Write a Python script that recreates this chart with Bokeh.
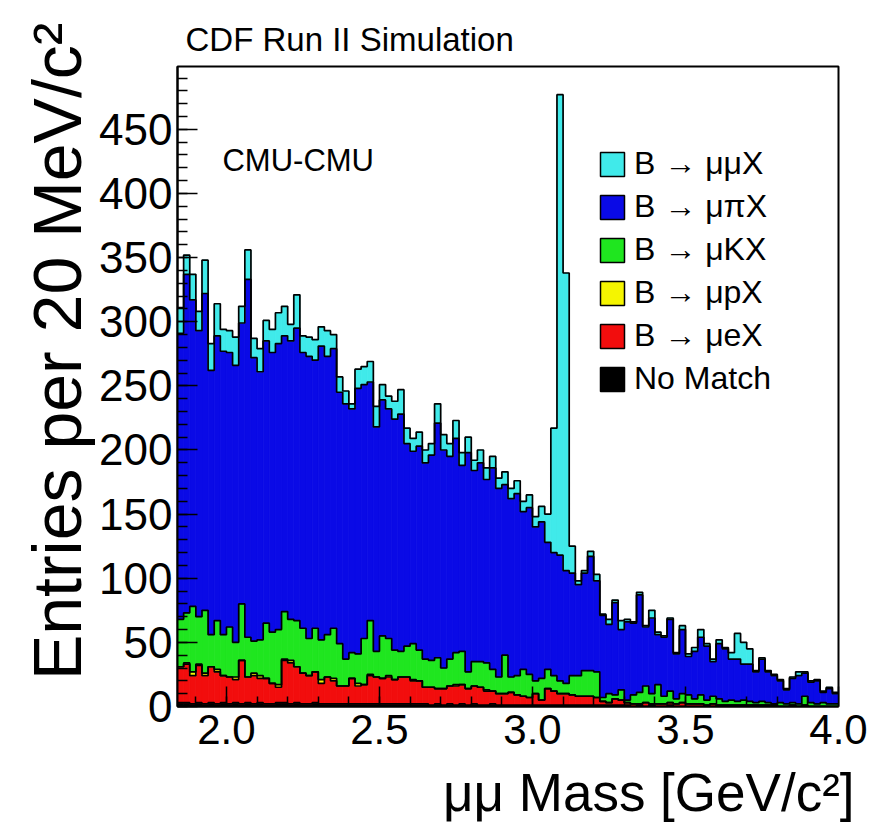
import numpy as np
from bokeh.plotting import figure
from bokeh.models import Range1d, FixedTicker, Title, Legend, LegendItem, Label, NumeralTickFormatter
from bokeh.embed import file_html
from bokeh.resources import INLINE

# Binning of the dimuon mass histogram: 20 MeV/c^2 bins from 1.84 to 4.0 GeV/c^2
mass_lo = 1.84
bin_width = 0.02

# Entries per bin for each matched decay category (108 bins)
mumu = [20, 15, 20, 15, 26, 21, 25, 17, 17, 22,
        13, 23, 15, 18, 16, 18, 24, 23, 13, 26,
        13, 15, 16, 15, 20, 11, 12, 10, 4, 15,
        14, 16, 16, 12, 10, 14, 19, 12, 10, 11,
        10, 9, 15, 12, 10, 14, 10, 12, 8, 10,
        9, 9, 8, 10, 8, 10, 8, 10, 8, 12,
        22, 97, 359, 232, 21, 3, 2, 4, 5, 1,
        4, 2, 7, 2, 1, 2, 1, 6, 2, 1,
        1, 1, 3, 2, 3, 6, 2, 2, 3, 1,
        5, 20, 17, 12, 1, 1, 1, 1, 1, 1,
        1, 3, 1, 1, 1, 1, 1, 1]

mupi = [223, 264, 239, 223, 247, 206, 222, 221, 214, 216,
        219, 279, 221, 209, 220, 218, 223, 215, 217, 228,
        215, 220, 209, 229, 217, 218, 196, 199, 190, 207,
        198, 186, 175, 184, 179, 180, 185, 158, 150, 159,
        153, 160, 183, 170, 158, 167, 145, 171, 149, 155,
        143, 157, 147, 133, 139, 142, 123, 130, 120, 122,
        99, 96, 98, 88, 80, 71, 76, 89, 71, 64,
        54, 72, 47, 61, 56, 76, 46, 59, 39, 46,
        56, 35, 50, 30, 37, 45, 42, 27, 43, 41,
        32, 33, 28, 29, 24, 33, 24, 22, 17, 11,
        19, 22, 18, 16, 18, 8, 12, 8]

muK = [37, 39, 51, 37, 49, 25, 38, 32, 39, 27,
       44, 31, 25, 28, 43, 40, 43, 37, 32, 36,
       35, 29, 34, 31, 33, 39, 33, 21, 20, 23,
       36, 42, 20, 33, 29, 23, 20, 24, 28, 24,
       22, 21, 24, 16, 21, 25, 26, 13, 19, 20,
       21, 17, 13, 30, 12, 15, 21, 18, 10, 17,
       15, 12, 10, 8, 15, 16, 20, 20, 20, 3,
       7, 3, 8, 2, 7, 9, 13, 8, 15, 6,
       9, 4, 7, 7, 4, 7, 4, 6, 5, 3,
       4, 3, 4, 3, 2, 3, 2, 1, 3, 2,
       2, 2, 7, 3, 2, 3, 2, 2]

mup = [0, 1, 3, 1, 2, 0, 2, 0, 0, 2,
       0, 0, 2, 2, 0, 0, 2, 1, 2, 0,
       0, 0, 0, 3, 0, 2, 0, 0, 0, 2,
       0, 1, 0, 0, 1, 0, 0, 0, 1, 0,
       0, 0, 0, 0, 0, 1, 0, 0, 0, 0,
       1, 0, 0, 0, 0, 0, 0, 0, 0, 0,
       0, 0, 0, 0, 0, 0, 0, 0, 0, 0,
       0, 0, 0, 0, 0, 0, 0, 0, 0, 0,
       0, 0, 0, 0, 0, 0, 0, 0, 0, 0,
       0, 0, 0, 0, 0, 0, 0, 0, 0, 0,
       0, 0, 0, 0, 0, 0, 0, 0]

mue = [28, 30, 22, 29, 22, 28, 25, 21, 21, 18,
       34, 20, 22, 19, 20, 16, 12, 33, 32, 28,
       24, 22, 24, 16, 21, 18, 14, 14, 20, 14,
       15, 22, 21, 20, 21, 19, 21, 21, 18, 18,
       13, 14, 12, 13, 14, 15, 15, 13, 14, 14,
       11, 10, 9, 9, 10, 8, 7, 6, 9, 4,
       13, 11, 9, 9, 8, 7, 7, 7, 6, 3,
       2, 5, 4, 2, 2, 1, 3, 1, 2, 2,
       2, 2, 3, 2, 2, 2, 1, 2, 1, 1,
       1, 1, 1, 1, 1, 1, 1, 1, 0, 0,
       1, 0, 1, 0, 0, 0, 0, 0]

nomatch = [3, 3, 2, 3, 2, 3, 2, 3, 2, 3,
           2, 3, 2, 3, 2, 2, 3, 3, 2, 3,
           2, 2, 3, 2, 2, 2, 2, 2, 2, 2,
           2, 2, 2, 2, 2, 2, 2, 2, 2, 2,
           2, 1, 2, 1, 2, 1, 2, 1, 2, 1,
           1, 2, 1, 1, 1, 1, 1, 1, 1, 1,
           1, 1, 1, 1, 1, 1, 1, 1, 1, 1,
           1, 1, 1, 1, 0, 1, 0, 1, 0, 0,
           1, 0, 0, 0, 0, 0, 0, 0, 0, 0,
           0, 0, 0, 0, 0, 0, 0, 0, 0, 0,
           0, 0, 0, 0, 0, 0, 0, 0]

# stacking order, bottom to top
categories = ["No Match", "B \u2192 \u03bceX", "B \u2192 \u03bcpX",
              "B \u2192 \u03bcKX", "B \u2192 \u03bc\u03c0X", "B \u2192 \u03bc\u03bcX"]
series = [nomatch, mue, mup, muK, mupi, mumu]
colors = ["#000000", "#f20d0d", "#f5f500", "#1fe61f", "#0a0ae6", "#40eaea"]

y_ticks = [0, 50, 100, 150, 200, 250, 300, 350, 400, 450]
x_ticks = [2.0, 2.5, 3.0, 3.5, 4.0]

n_bins = len(mumu)
for s in series:
    assert len(s) == n_bins
left = mass_lo + bin_width * np.arange(n_bins)
right = left + bin_width
edges = np.append(left, right[-1])

FONT = "Liberation Sans"

p = figure(width=882, height=836, output_backend="svg", toolbar_location=None,
           x_range=Range1d(1.84, 4.0), y_range=Range1d(0, 499),
           min_border_left=177, min_border_right=44, min_border_top=66,
           min_border_bottom=130, background_fill_color="white",
           border_fill_color="white")

p.title.text = "CDF Run II Simulation"
p.title.text_font = FONT
p.title.text_font_style = "normal"
p.title.text_font_size = "33px"
p.title.text_color = "black"
p.title.align = "left"
p.title.offset = 8
p.title.standoff = 18

p.grid.visible = False
p.outline_line_color = "black"
p.outline_line_width = 2

# filled stack (each bin outlined in its own colour so no seams show)
cum = np.zeros(n_bins)
tops = []
for name, s, c in zip(categories, series, colors):
    bottom = cum.copy()
    cum = cum + np.asarray(s, dtype=float)
    p.quad(left=left, right=right, bottom=bottom, top=cum,
           fill_color=c, line_color=c, line_width=0.8)
    tops.append(cum.copy())

# black histogram outlines on top of every layer
for t in tops:
    p.step(x=edges, y=np.append(t, t[-1]), mode="after",
           line_color="black", line_width=1.7)

# legend swatches (outlined boxes, no visible data)
legend_items = []
for name, c in zip(categories, colors):
    sw = p.quad(left=[np.nan], right=[np.nan], bottom=[np.nan], top=[np.nan],
                fill_color=c, line_color="black", line_width=1.5)
    legend_items.append(LegendItem(label=name, renderers=[sw]))
legend_items = legend_items[::-1]

legend = Legend(items=legend_items, location=(420, 309),
                label_text_font=FONT, label_text_font_size="32px",
                label_text_color="black",
                glyph_width=30, glyph_height=30, label_height=30,
                spacing=6, padding=0, margin=0, label_standoff=7,
                border_line_color=None, background_fill_alpha=0)
p.add_layout(legend)

p.add_layout(Label(x=1.987, y=412, text="CMU-CMU", text_font=FONT,
                   text_font_size="31px", text_color="black",
                   text_baseline="bottom"))

# axes
for ax in (p.xaxis[0], p.yaxis[0]):
    ax.axis_line_width = 2
    ax.major_tick_in = 20
    ax.major_tick_out = 0
    ax.minor_tick_in = 10
    ax.minor_tick_out = 0
    ax.major_tick_line_width = 1.5
    ax.minor_tick_line_width = 1.5
    ax.major_label_text_font = FONT
    ax.major_label_text_color = "black"

p.yaxis.major_label_text_font_size = "44px"
p.xaxis.major_label_text_font_size = "42px"
p.yaxis.ticker = FixedTicker(ticks=y_ticks, minor_ticks=list(range(0, 500, 10)))
p.xaxis.ticker = FixedTicker(ticks=x_ticks,
                             minor_ticks=[round(1.9 + 0.1 * i, 2) for i in range(21)])
p.xaxis.formatter = NumeralTickFormatter(format="0.0")
p.yaxis.major_label_standoff = 5
p.xaxis.major_label_standoff = 8

p.add_layout(Title(text="Entries per 20 MeV/c\u00b2", align="right",
                   text_font=FONT, text_font_style="normal", text_color="black",
                   text_font_size="68px", standoff=4, offset=-44), "left")
p.add_layout(Title(text="\u03bc\u03bc Mass [GeV/c\u00b2]", align="right",
                   text_font=FONT, text_font_style="normal", text_color="black",
                   text_font_size="53px", offset=-16, standoff=28), "below")

open("out.html", "w").write(file_html(p, INLINE))
